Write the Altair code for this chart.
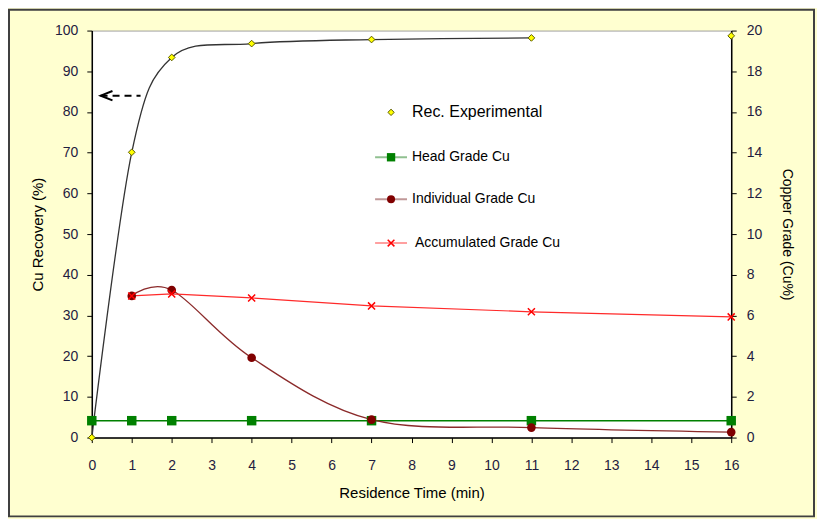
import altair as alt
import pandas as pd

# ---------------- data ----------------
time = [0, 1, 2, 4, 7, 11, 16]
rec_recovery = [0.0, 70.1, 93.4, 96.8, 97.8, 98.2, 98.7]
line_end_time = 11  # smoothed recovery curve is drawn up to t = 11 only

head_time = [0, 1, 2, 4, 7, 11, 16]
head_grade = [0.83, 0.83, 0.83, 0.83, 0.83, 0.83, 0.83]

indiv_time = [1, 2, 4, 7, 11, 16]
indiv_grade = [6.96, 7.25, 3.92, 0.88, 0.49, 0.27]

accum_time = [1, 2, 4, 7, 11, 16]
accum_grade = [6.96, 7.06, 6.86, 6.47, 6.18, 5.93]

x_ticks = list(range(0, 17))
left_ticks = list(range(0, 101, 10))
right_ticks = list(range(0, 21, 2))

legend_labels = ["Rec. Experimental", "Head Grade Cu", "Individual Grade Cu", "Accumulated Grade Cu"]

arrow_tip_x = 0.22
arrow_tail_x = 1.22
arrow_y = 84

# ---------------- frames ----------------
rec_df = pd.DataFrame({"time": time, "rec": rec_recovery})
rec_line_df = rec_df[rec_df["time"] <= line_end_time]
head_df = pd.DataFrame({"time": head_time, "grade": head_grade})
indiv_df = pd.DataFrame({"time": indiv_time, "grade": indiv_grade})
accum_df = pd.DataFrame({"time": accum_time, "grade": accum_grade})
arrow_df = pd.DataFrame({"time": [arrow_tip_x], "time2": [arrow_tail_x], "rec": [arrow_y]})

W, H = 641, 408
FONT = "Liberation Sans"
LABEL_COLOR = "#1f2040"


def X(field="time"):
    return alt.X(
        f"{field}:Q",
        scale=alt.Scale(domain=[0, 16], nice=False, zero=False),
        axis=alt.Axis(
            values=x_ticks, title="Residence Time (min)", tickSize=5,
            labelPadding=16, titlePadding=13, format="d", labelFlush=False,
        ),
    )


def YL(field="rec"):
    return alt.Y(
        f"{field}:Q",
        scale=alt.Scale(domain=[0, 100], nice=False),
        axis=alt.Axis(
            values=left_ticks, title="Cu Recovery (%)", orient="left",
            tickSize=5, labelPadding=9, titlePadding=9, labelFlush=False,
        ),
    )


def YR(field="grade"):
    return alt.Y(
        f"{field}:Q",
        scale=alt.Scale(domain=[0, 20], nice=False),
        axis=alt.Axis(
            values=right_ticks, title="Copper Grade (Cu%)", orient="right",
            tickSize=5, labelPadding=10, titlePadding=18, titleFontSize=14,
            labelFlush=False,
        ),
    )


# ---------------- left (recovery) layer ----------------
rec_line = alt.Chart(rec_line_df).mark_line(
    interpolate="cardinal", tension=0, color="#333333", strokeWidth=1.3
).encode(x=X(), y=YL())

rec_pts = alt.Chart(rec_df).mark_point(
    shape="diamond", filled=True, fill="#ffff00", stroke="#5a5a00",
    strokeWidth=1, size=45, opacity=1,
).encode(x=X(), y=YL())

arrow_line = alt.Chart(arrow_df).mark_rule(
    color="black", strokeWidth=2, strokeDash=[7, 5]
).encode(x=X(), x2="time2:Q", y=YL())

arrow_head = alt.Chart(arrow_df).mark_point(
    shape="M1,-0.8L-1,0L1,0.8", filled=False, stroke="black",
    strokeWidth=2, size=140, xOffset=6, opacity=1,
).encode(x=X(), y=YL())

left = alt.layer(rec_line, arrow_line, arrow_head, rec_pts)

# ---------------- right (grade) layer ----------------
head_line = alt.Chart(head_df).mark_line(color="#008000", strokeWidth=1.5).encode(x=X(), y=YR())
head_pts = alt.Chart(head_df).mark_square(color="#008000", size=90, opacity=1).encode(x=X(), y=YR())

indiv_line = alt.Chart(indiv_df).mark_line(
    interpolate="cardinal", tension=0, color="#8b2a2a", strokeWidth=1.3
).encode(x=X(), y=YR())
indiv_pts = alt.Chart(indiv_df).mark_circle(color="#800000", size=75, opacity=1).encode(x=X(), y=YR())

accum_line = alt.Chart(accum_df).mark_line(color="#ff2a2a", strokeWidth=1.2).encode(x=X(), y=YR())
accum_pts = alt.Chart(accum_df).mark_point(
    shape="M-1,-1L1,1M-1,1L1,-1", filled=False, stroke="#ff0000",
    strokeWidth=1.5, size=50, opacity=1,
).encode(x=X(), y=YR())

right = alt.layer(head_line, indiv_line, accum_line, head_pts, indiv_pts, accum_pts)

# ---------------- legend (drawn inside the plot) ----------------
LX_SYM, LX_TXT = 300, 321
ROWS = [82, 127, 169, 213]
leg_line_colors = [None, "#90c090", "#c09898", "#ffa0a0"]


def lab_df(i):
    return pd.DataFrame({"label": [legend_labels[i]]})


legend_layers = []
for i, yy in enumerate(ROWS):
    if leg_line_colors[i]:
        legend_layers.append(
            alt.Chart(lab_df(i)).mark_rule(color=leg_line_colors[i], strokeWidth=2).encode(
                x=alt.value(284), x2=alt.value(316), y=alt.value(yy)
            )
        )
legend_layers.append(
    alt.Chart(lab_df(0)).mark_point(
        shape="diamond", filled=True, fill="#ffff00", stroke="#5a5a00",
        strokeWidth=1, size=40, opacity=1,
    ).encode(x=alt.value(LX_SYM), y=alt.value(ROWS[0]))
)
legend_layers.append(
    alt.Chart(lab_df(1)).mark_square(color="#008000", size=70, opacity=1).encode(
        x=alt.value(LX_SYM), y=alt.value(ROWS[1]))
)
legend_layers.append(
    alt.Chart(lab_df(2)).mark_circle(color="#800000", size=65, opacity=1).encode(
        x=alt.value(LX_SYM), y=alt.value(ROWS[2]))
)
legend_layers.append(
    alt.Chart(lab_df(3)).mark_point(
        shape="M-1,-1L1,1M-1,1L1,-1", filled=False, stroke="#ff0000",
        strokeWidth=1.5, size=45, opacity=1,
    ).encode(x=alt.value(LX_SYM), y=alt.value(ROWS[3]))
)
for i, yy in enumerate(ROWS):
    legend_layers.append(
        alt.Chart(lab_df(i)).mark_text(
            align="left", baseline="middle", font=FONT,
            fontSize=16 if i == 0 else 14, color="black",
        ).encode(x=alt.value(LX_TXT + (3 if i == 3 else 0)), y=alt.value(yy), text="label:N")
    )

# ---------------- outer frame ----------------
frame = alt.Chart(pd.DataFrame({"label": ["frame"]})).mark_rect(
    fillOpacity=0, stroke="#404040", strokeWidth=2
).encode(x=alt.value(-83), x2=alt.value(724), y=alt.value(-21), y2=alt.value(487))

chart = (
    alt.layer(frame, left, right, *legend_layers)
    .resolve_scale(y="independent")
    .properties(
        width=W, height=H,
        autosize=alt.AutoSizeParams(type="none"),
        padding={"left": 84, "top": 22, "right": 86, "bottom": 81},
        background="#ffffd0",
    )
    .configure_view(fill="white", stroke="#a0a0a0", strokeWidth=1)
    .configure_axis(
        grid=False, domainColor="black", tickColor="black", domainWidth=1.5,
        labelFont=FONT, labelFontSize=14, labelColor=LABEL_COLOR,
        titleFont=FONT, titleFontSize=15, titleFontWeight="normal", titleColor="black",
    )
)

chart.save("out.html", embed_options={"renderer": "svg", "actions": False})
